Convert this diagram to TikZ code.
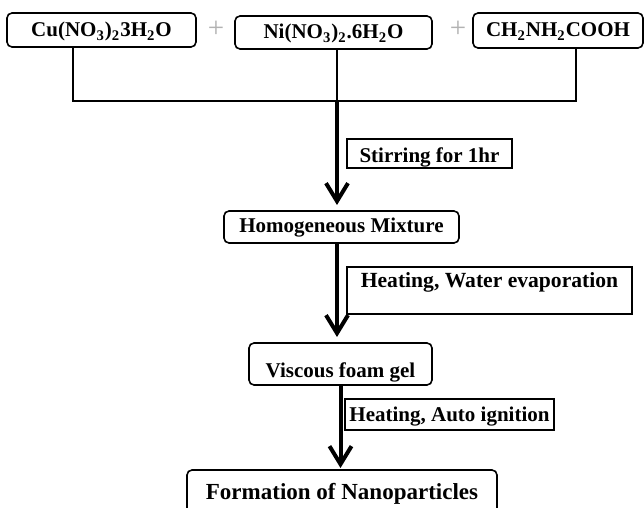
\documentclass[tikz,border=0pt]{standalone}
\usepackage{fontspec}
\setmainfont{Liberation Serif}
\usetikzlibrary{arrows.meta}
\begin{document}
\begin{tikzpicture}[x=0.5pt,y=-0.5pt,every node/.style={font=\fontsize{10.5}{12}\selectfont\bfseries,inner sep=0pt,outer sep=0pt},
  chem/.style={draw,line width=0.8pt,rounded corners=2.5pt},
  cond/.style={draw,line width=0.6pt},
  plus/.style={text=black!30,font=\fontsize{14.5}{16}\selectfont},
  flow/.style={line width=2pt,-{Straight Barb[length=9pt,width=11pt,line width=2pt]}}]
  \useasboundingbox (0,0) rectangle (644,508);
  \clip (0,0) rectangle (644,508);
  \node[chem,minimum width=94.5pt,text height=12pt,text depth=5pt] (cu) at (101.5,30) {Cu(NO\textsubscript{3})\textsubscript{2}3H\textsubscript{2}O};
  \node[chem,minimum width=98.5pt,text height=11.5pt,text depth=5pt] (ni) at (333.5,32.5) {Ni(NO\textsubscript{3})\textsubscript{2}.6H\textsubscript{2}O};
  \node[chem,minimum width=85pt,text height=12pt,text depth=5.5pt] (ch) at (558,30.5) {CH\textsubscript{2}NH\textsubscript{2}COOH};
  \node[plus] (p1) at (216,29) {+};
  \node[plus] (p2) at (458,29) {+};
  \coordinate (jl) at (73,101); \coordinate (jm) at (337,101); \coordinate (jr) at (576,101);
  \draw[line width=1pt] (cu.south -| jl) -- (jl) -- (jr) -- (ch.south -| jr);
  \draw[line width=1pt] (ni.south -| jm) -- (jm);
  \node[chem,minimum width=117.5pt,text height=11pt,text depth=5pt] (mix) at (341.5,227) {Homogeneous Mixture};
  \node[chem,minimum width=91.5pt,text height=17.5pt,text depth=3.5pt] (gel) at (340.5,364) {Viscous foam gel};
  \node[chem,minimum width=155pt,text height=15pt,text depth=10pt,font=\fontsize{11.5}{13}\selectfont\bfseries] (nano) at (342,495) {Formation of Nanoparticles\hspace{10pt}};
  \node[cond,minimum width=82.5pt,text height=12pt,text depth=2.5pt] (stir) at (429.5,153.5) {Stirring for 1hr};
  \node[cond,minimum width=142.5pt,text height=10.5pt,text depth=13pt,font=\fontsize{10.8}{12}\selectfont\bfseries] (evap) at (489.5,290.5) {Heating, Water evaporation};
  \node[cond,minimum width=104.5pt,text height=11.5pt,text depth=4pt] (ign) at (449.5,414.5) {Heating, Auto ignition};
  \draw[flow,shorten >=3pt] (jm) -- (jm |- mix.north);
  \draw[flow,shorten >=3pt] (mix.south -| jm) -- (jm |- gel.north);
  \draw[flow,shorten >=1pt] (gel.south) -- (gel.south |- nano.north);
\end{tikzpicture}
\end{document}
